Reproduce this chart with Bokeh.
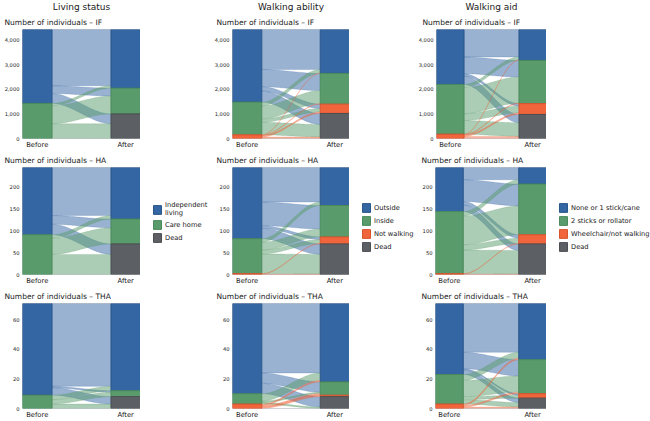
import numpy as np
from bokeh.plotting import figure
from bokeh.models import (Range1d, FixedTicker, NumeralTickFormatter, Title,
                          Legend, LegendItem, ColumnDataSource)
from bokeh.layouts import row, column
from bokeh.embed import file_html
from bokeh.resources import INLINE

FONT = "DejaVu Sans"

# ---------------- data ----------------
column_titles = ["Living status", "Walking ability", "Walking aid"]
groups = ["IF", "HA", "THA"]
subtitle_prefix = "Number of individuals – "
x_labels = ["Before", "After"]

living_categories = ["Independent\nliving", "Care home", "Dead"]
ability_categories = ["Outside", "Inside", "Not walking", "Dead"]
aid_categories = ["None or 1 stick/cane", "2 sticks or rollator", "Wheelchair/not walking", "Dead"]

# flow matrices: rows = category before, columns = category after
living_IF = [[2290, 320, 400],
             [100, 730, 600]]
living_HA = [[110, 20, 24],
             [8, 37, 46]]
living_THA = [[56, 1, 5],
              [3, 3, 3]]

ability_IF = [[1630, 700, 180, 450],
              [150, 530, 140, 510],
              [10, 20, 60, 60]]
ability_HA = [[79, 54, 6, 24],
              [8, 18, 9, 45],
              [0, 0, 1, 1]]
ability_THA = [[47, 7, 0, 7],
               [5, 1, 0, 1],
               [1, 1, 1, 0]]

aid_IF = [[1120, 680, 100, 340],
          [130, 1060, 280, 555],
          [10, 20, 60, 85]]
aid_HA = [[28, 50, 8, 15],
          [10, 66, 12, 54],
          [0, 0, 1, 1]]
aid_THA = [[33, 11, 1, 3],
           [4, 11, 2, 3],
           [1, 1, 0, 1]]

ticks_IF = [0, 1000, 2000, 3000, 4000]
ticks_HA = [0, 50, 100, 150, 200]
ticks_THA = [0, 20, 40, 60]

# ---------------- style ----------------
BLUE, GREEN, ORANGE, GREY = "#3466a3", "#5a9b6b", "#f0653b", "#5c5f64"
BLUE_D, GREEN_D, ORANGE_D, GREY_D = "#2a5689", "#4b8a5c", "#d9532c", "#4b4e52"
living_colors = [(BLUE, BLUE_D), (GREEN, GREEN_D), (GREY, GREY_D)]
four_colors = [(BLUE, BLUE_D), (GREEN, GREEN_D), (ORANGE, ORANGE_D), (GREY, GREY_D)]

BAR_W = 0.25
col_geom = [  # panel width, min_border_left, legend-strip width
    (140, 22, 70),
    (139, 22, 66),
    (131, 20, 104),
]
row_geom = [  # height, top, bottom
    (151, 29, 12),
    (136, 16, 11),
    (134, 16, 10),
]
sub_offsets = [-18, -16, -14]
head_offsets = [-2, 0, -8]
legend_pos = [(12, 31), (12, 22), (12, 22)]


def panel(matrix, colors, ticks, ci, ri):
    m = np.array(matrix, dtype=float)
    nb, na = m.shape
    before = m.sum(axis=1)
    after = m.sum(axis=0)
    total = m.sum()
    b_top = total - np.concatenate([[0], np.cumsum(before)[:-1]])
    a_top = total - np.concatenate([[0], np.cumsum(after)[:-1]])

    w, bl, _ = col_geom[ci]
    h, bt, bb = row_geom[ri]
    p = figure(width=w, height=h, output_backend="svg", toolbar_location=None,
               title=None, x_range=Range1d(0, 1), y_range=Range1d(0, total),
               min_border_left=bl, min_border_right=0,
               min_border_top=bt, min_border_bottom=bb)
    p.background_fill_color = "white"
    p.border_fill_color = "white"
    p.outline_line_color = "#cfd3d8"
    p.outline_line_width = 1
    p.grid.visible = False

    # flows
    t = np.linspace(0, 1, 48)
    s = t * t * (3 - 2 * t)
    xc = BAR_W + (1 - 2 * BAR_W) * t
    xs, ys, fc = [], [], []
    for i in range(nb):
        for j in range(na):
            v = m[i, j]
            if v <= 0:
                continue
            st = b_top[i] - m[i, :j].sum()
            et = a_top[j] - m[:i, j].sum()
            top = st + (et - st) * s
            bot = (st - v) + ((et - v) - (st - v)) * s
            xs.append(np.concatenate([xc, xc[::-1]]).tolist())
            ys.append(np.concatenate([top, bot[::-1]]).tolist())
            fc.append(colors[i][0])
    p.patches(xs=xs, ys=ys, fill_color=fc, fill_alpha=0.5,
              line_color=fc, line_alpha=0.35, line_width=0.6)

    # bars
    for k in range(na):
        L, R, T, B = [], [], [], []
        if k < nb and before[k] > 0:
            L.append(0); R.append(BAR_W); T.append(b_top[k]); B.append(b_top[k] - before[k])
        if after[k] > 0:
            L.append(1 - BAR_W); R.append(1); T.append(a_top[k]); B.append(a_top[k] - after[k])
        src = ColumnDataSource(dict(left=L, right=R, top=T, bottom=B))
        p.quad(left="left", right="right", top="top", bottom="bottom", source=src,
               fill_color=colors[k][0], line_color=colors[k][1], line_width=1)

    # axes
    p.yaxis.ticker = FixedTicker(ticks=ticks)
    p.yaxis.formatter = NumeralTickFormatter(format="0,0")
    p.xaxis.ticker = FixedTicker(ticks=[BAR_W / 2, 1 - BAR_W / 2])
    p.xaxis.major_label_overrides = {BAR_W / 2: x_labels[0], 1 - BAR_W / 2: x_labels[1]}
    for ax in (p.xaxis[0], p.yaxis[0]):
        ax.axis_line_color = None
        ax.major_tick_line_color = None
        ax.minor_tick_line_color = None
        ax.major_tick_out = 0
        ax.major_tick_in = 0
        ax.minor_tick_out = 0
        ax.major_label_text_font = FONT
        ax.major_label_text_color = "#1a1a1a"
    p.yaxis.major_label_text_font_size = "5.2px"
    p.yaxis.major_label_standoff = 3
    p.xaxis.major_label_text_font_size = "6.8px"
    p.xaxis.major_label_standoff = 2

    sub = Title(text=subtitle_prefix + groups[ri], align="left", offset=sub_offsets[ci],
                text_font=FONT, text_font_size="7.5px", text_font_style="normal",
                text_color="#1a1a1a", standoff=5)
    p.add_layout(sub, "above")
    if ri == 0:
        head = Title(text=column_titles[ci], align="center", offset=head_offsets[ci],
                     vertical_align="top",
                     text_font=FONT, text_font_size="9px", text_font_style="normal",
                     text_color="#1a1a1a", standoff=0)
        p.add_layout(head, "above")
    return p


def legend_strip(cats, colors, ci, ri):
    w = col_geom[ci][2]
    h = row_geom[ri][0]
    q = figure(width=w, height=h, output_backend="svg", toolbar_location=None,
               title=None, x_range=Range1d(0, 1), y_range=Range1d(0, 1),
               x_axis_location=None, y_axis_location=None,
               min_border_left=0, min_border_right=0,
               min_border_top=0, min_border_bottom=0)
    q.outline_line_color = None
    q.grid.visible = False
    items = []
    for k, c in enumerate(cats):
        # legend swatch renderer, kept outside the visible range
        src = ColumnDataSource(dict(left=[2], right=[3], top=[3], bottom=[2]))
        r = q.quad(left="left", right="right", top="top", bottom="bottom", source=src,
                   fill_color=colors[k][0], line_color=colors[k][1], line_width=1)
        items.append(LegendItem(label=c, renderers=[r]))
    lg = Legend(items=items, location=legend_pos[ci],
                label_text_font=FONT, label_text_font_size="6.7px",
                label_text_line_height=1.0,
                label_text_color="#1a1a1a", glyph_width=10, glyph_height=11,
                label_standoff=3, spacing=2, padding=0, margin=0,
                border_line_color=None, background_fill_alpha=0)
    q.add_layout(lg, "center")
    return q


def spacer_fig(ci, ri):
    s = figure(width=col_geom[ci][2], height=row_geom[ri][0],
               output_backend="svg", toolbar_location=None, title=None,
               x_axis_location=None, y_axis_location=None,
               min_border_left=0, min_border_right=0,
               min_border_top=0, min_border_bottom=0)
    s.outline_line_color = None
    s.grid.visible = False
    return s


grid_data = [
    [(living_IF, living_colors, ticks_IF, living_categories),
     (ability_IF, four_colors, ticks_IF, ability_categories),
     (aid_IF, four_colors, ticks_IF, aid_categories)],
    [(living_HA, living_colors, ticks_HA, living_categories),
     (ability_HA, four_colors, ticks_HA, ability_categories),
     (aid_HA, four_colors, ticks_HA, aid_categories)],
    [(living_THA, living_colors, ticks_THA, living_categories),
     (ability_THA, four_colors, ticks_THA, ability_categories),
     (aid_THA, four_colors, ticks_THA, aid_categories)],
]

rows = []
for ri in range(3):
    figs = []
    for ci in range(3):
        mat, cols, tk, cats = grid_data[ri][ci]
        figs.append(panel(mat, cols, tk, ci, ri))
        figs.append(legend_strip(cats, cols, ci, ri) if ri == 1 else spacer_fig(ci, ri))
    rows.append(row(*figs, spacing=0))
layout = column(*rows, spacing=0)

open("out.html", "w").write(file_html(layout, INLINE))
